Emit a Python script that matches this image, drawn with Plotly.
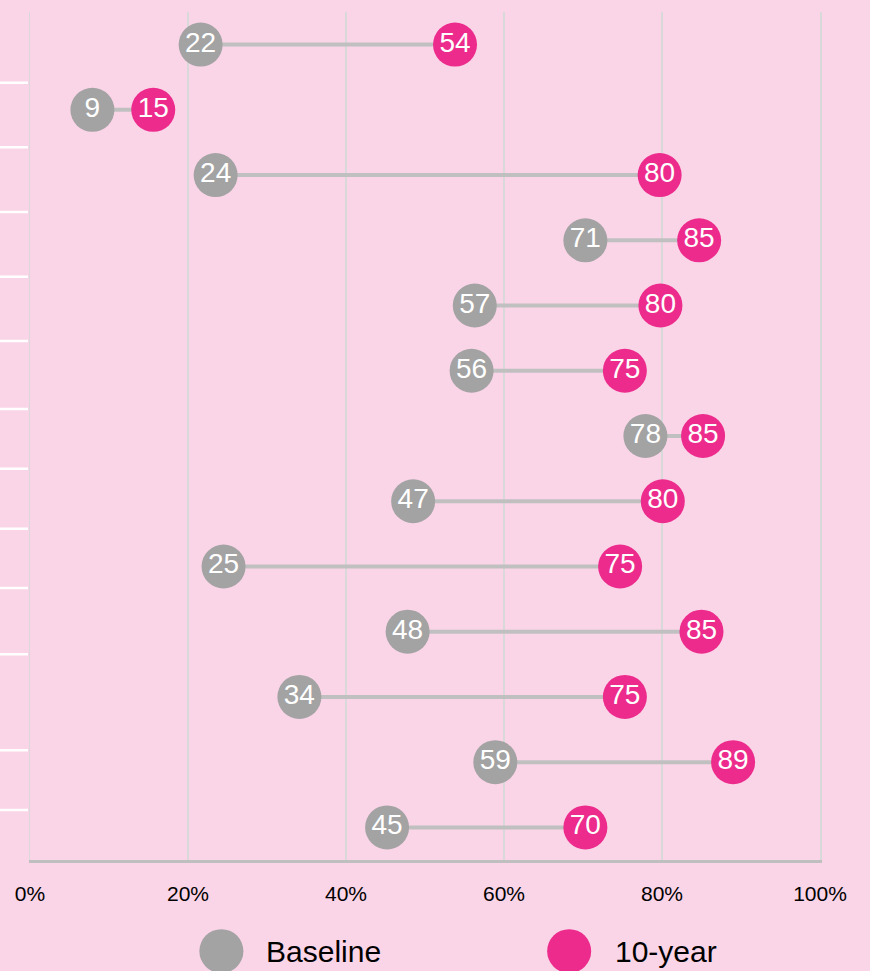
import plotly.graph_objects as go

# ---- data ----
rows = list(range(13))
baseline_values = [21.6, 7.9, 23.5, 70.3, 56.3, 55.9, 77.9, 48.5, 24.5, 47.8, 34.1, 58.9, 45.2]
ten_year_values = [53.8, 15.6, 79.7, 84.7, 79.8, 75.3, 85.2, 80.1, 74.7, 85.0, 75.3, 89.0, 70.3]
baseline_labels = ["22", "9", "24", "71", "57", "56", "78", "47", "25", "48", "34", "59", "45"]
ten_year_labels = ["54", "15", "80", "85", "80", "75", "85", "80", "75", "85", "75", "89", "70"]
x_tick_values = [0, 20, 40, 60, 80, 100]
x_tick_labels = ["0%", "20%", "40%", "60%", "80%", "100%"]
legend_names = ["Baseline", "10-year"]
# row separators of the (cropped) label table on the left, in row units
separator_rows = [0.584, 1.574, 2.566, 3.558, 4.544, 5.586, 6.501, 7.421, 8.330, 9.347, 10.818, 11.734]

BG = "#FAD4E7"
GREY = "#A3A3A3"
PINK = "#EC2B8C"
CONNECT = "#C0C0C0"
GRID = "#D9D9D9"
FONT = "Liberation Sans, Arial, sans-serif"

fig = go.Figure()

# connectors
cx, cy = [], []
for r, b, t in zip(rows, baseline_values, ten_year_values):
    cx += [b, t, None]
    cy += [r, r, None]
fig.add_trace(go.Scatter(x=cx, y=cy, mode="lines",
                         line=dict(color=CONNECT, width=4),
                         hoverinfo="skip", showlegend=False))

fig.add_trace(go.Scatter(x=baseline_values, y=rows, mode="markers+text",
                         name=legend_names[0], text=baseline_labels,
                         textposition="middle center",
                         textfont=dict(color="white", size=28, family=FONT),
                         marker=dict(size=44, color=GREY, line=dict(width=0)),
                         showlegend=False))
fig.add_trace(go.Scatter(x=ten_year_values, y=rows, mode="markers+text",
                         name=legend_names[1], text=ten_year_labels,
                         textposition="middle center",
                         textfont=dict(color="white", size=28, family=FONT),
                         marker=dict(size=44, color=PINK, line=dict(width=0)),
                         showlegend=False))

shapes = []
for s in separator_rows:
    shapes.append(dict(type="line", xref="paper", yref="y",
                       x0=-0.06, x1=-0.0025, y0=s, y1=s,
                       line=dict(color="white", width=2.5)))

# manual legend
plot_w = 870 - 29.5 - 50
legend_y = -0.1075
legend_items = [(221, 264, GREY), (569, 613, PINK)]
annotations = []
for (cxp, txp, col), name in zip(legend_items, legend_names):
    shapes.append(dict(type="circle", xref="paper", yref="paper",
                       xsizemode="pixel", ysizemode="pixel",
                       xanchor=(cxp - 29.5) / plot_w, yanchor=legend_y,
                       x0=-22, x1=22, y0=-22, y1=22,
                       fillcolor=col, line=dict(width=0)))
    annotations.append(dict(xref="paper", yref="paper",
                            x=(txp - 29.5) / plot_w, y=legend_y,
                            xanchor="left", yanchor="middle",
                            text=name, showarrow=False,
                            font=dict(size=30, color="black", family=FONT)))

fig.update_layout(
    width=870, height=971,
    margin=dict(l=29.5, r=50, t=12, b=111),
    paper_bgcolor=BG, plot_bgcolor=BG,
    showlegend=False,
    shapes=shapes, annotations=annotations,
    xaxis=dict(range=[0, 100], tickvals=x_tick_values, ticktext=x_tick_labels,
               showgrid=True, gridcolor=GRID, gridwidth=1.5,
               zeroline=False, showline=True, linecolor="#BFBFBF", linewidth=2.5,
               ticks="", ticklabelstandoff=13,
               tickfont=dict(size=21, color="black", family=FONT),
               fixedrange=True),
    yaxis=dict(range=[12.5, -0.5], showticklabels=False, ticks="",
               showgrid=False, zeroline=False,
               showline=True, linecolor=GRID, linewidth=1.5, mirror=True,
               fixedrange=True),
)

fig.write_html("out.html", config={"displayModeBar": False, "staticPlot": True})

# remove the browser's default page margin so the figure fills the window
with open("out.html", "r", encoding="utf-8") as f:
    html = f.read()
html = html.replace("<head>", "<head><style>html,body{margin:0;padding:0;overflow:hidden;background:%s}</style>" % BG, 1)
with open("out.html", "w", encoding="utf-8") as f:
    f.write(html)
